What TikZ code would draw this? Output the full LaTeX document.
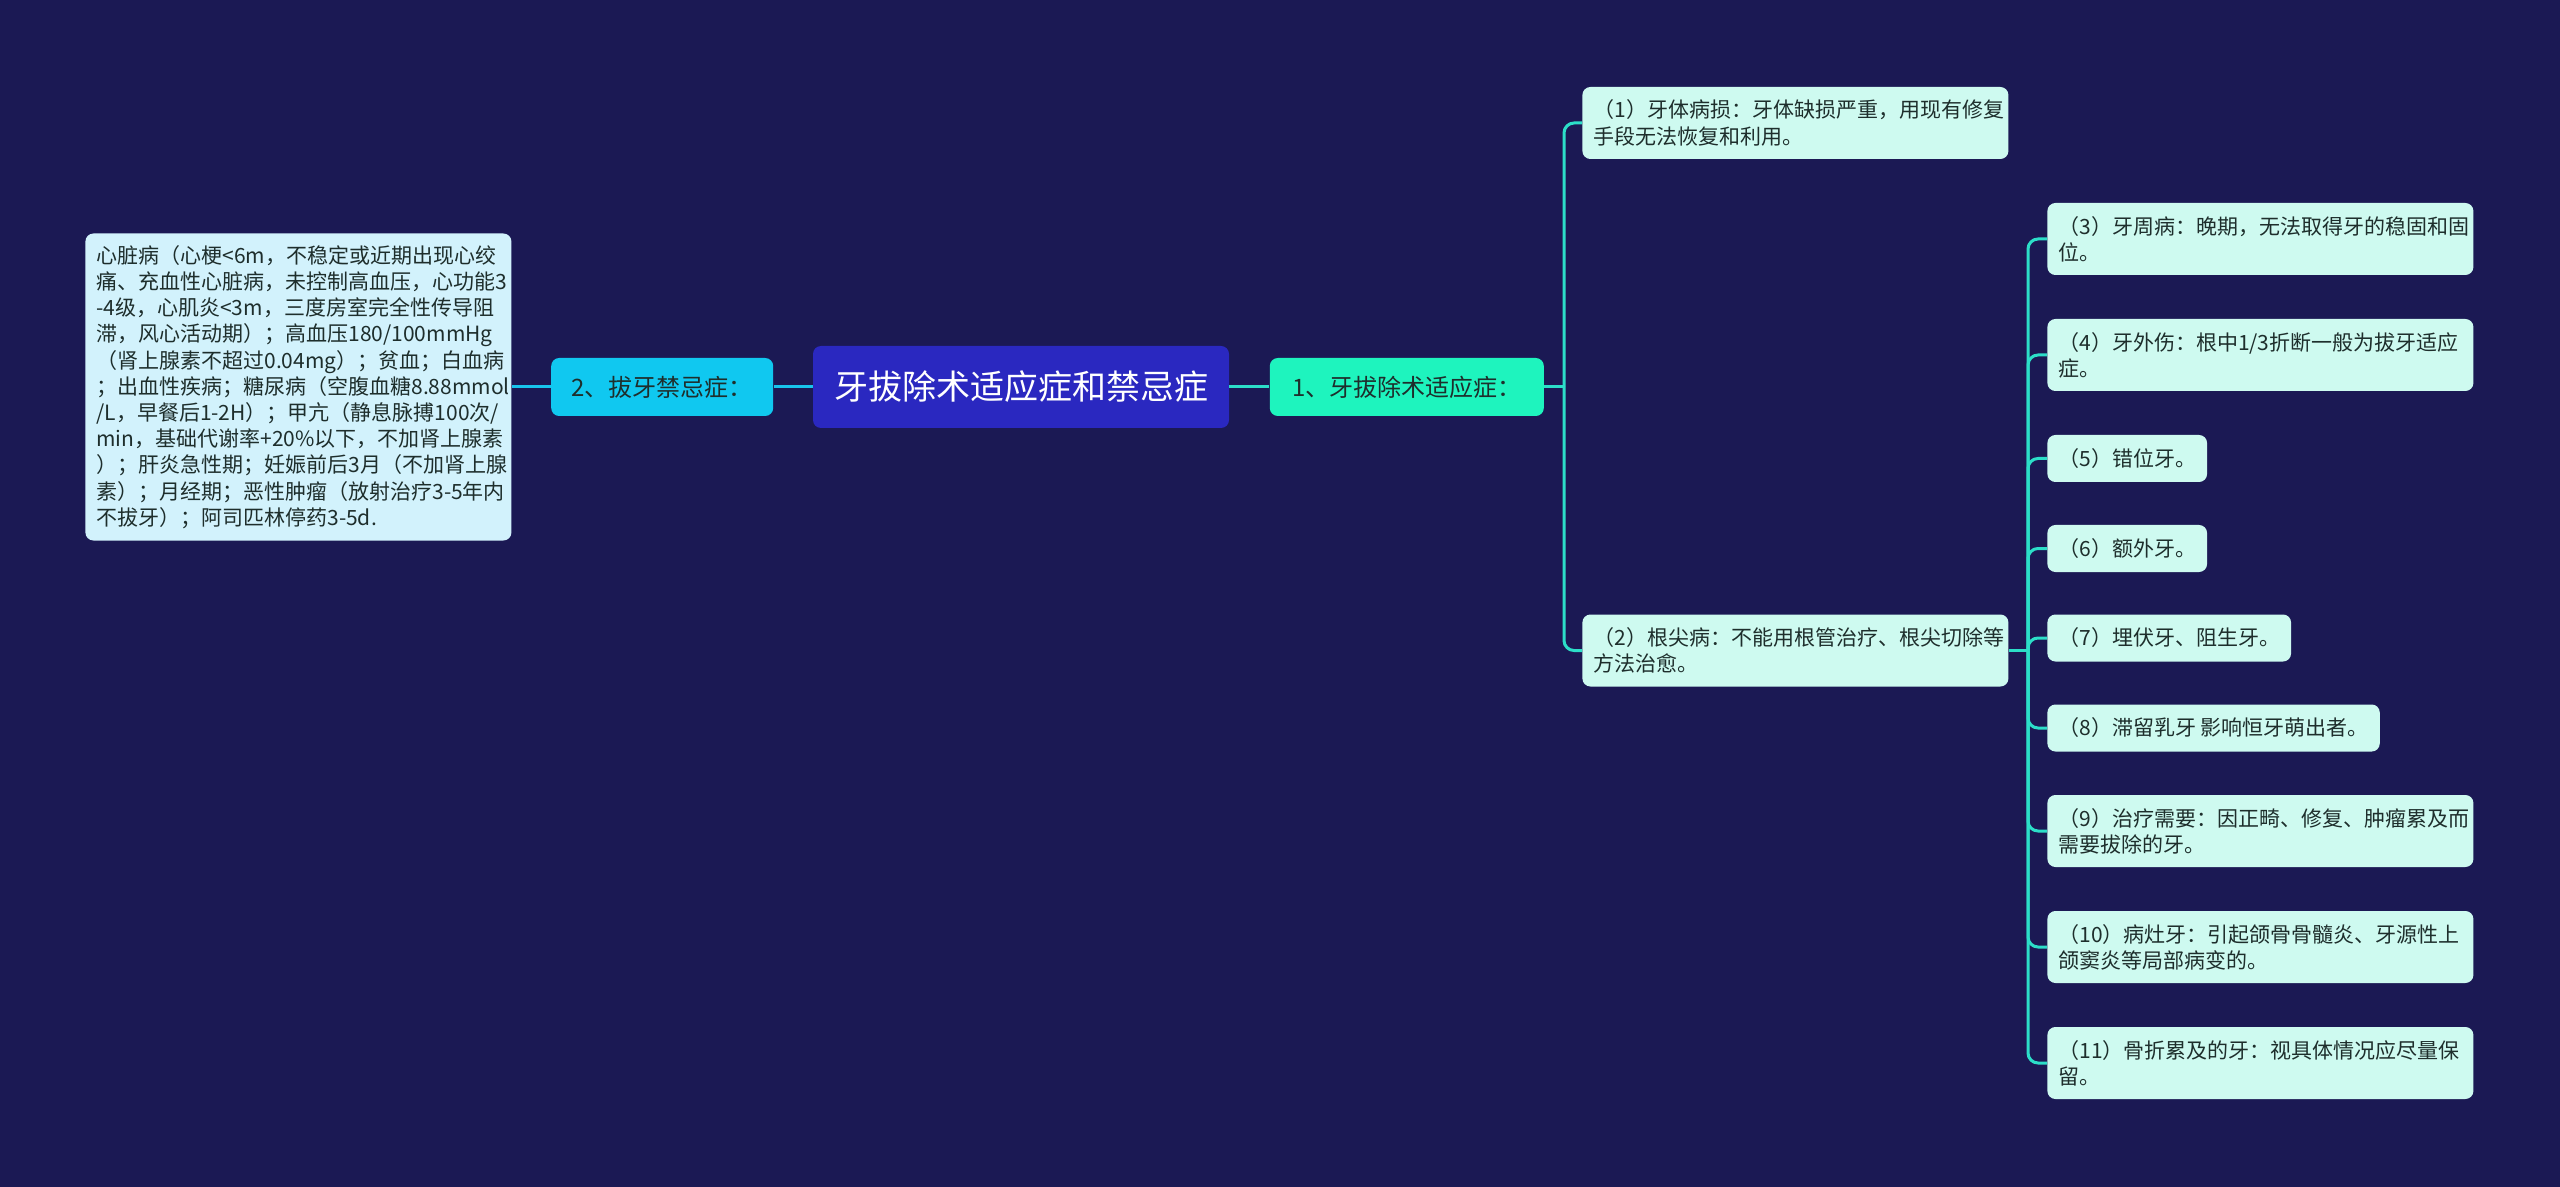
\documentclass[tikz,border=0pt]{standalone}
\usepackage{fontspec}
\setmainfont{Noto Sans CJK SC}
\usepackage{tikz}
\usetikzlibrary{positioning}

\definecolor{sfondo}{RGB}{27,25,84}
\definecolor{viola}{RGB}{42,40,192}
\definecolor{azzurro}{RGB}{16,200,240}
\definecolor{verde}{RGB}{30,244,190}
\definecolor{menta}{RGB}{206,250,240}
\definecolor{cielo}{RGB}{210,242,252}
\definecolor{testo}{RGB}{30,46,44}
\definecolor{filo1}{RGB}{44,222,200}
\definecolor{filo2}{RGB}{24,196,236}

\exhyphenpenalty=10000
\hyphenpenalty=10000

\begin{document}
\begin{tikzpicture}[x=0.5pt, y=-0.5pt,
    box/.style={rounded corners=4pt, inner xsep=5.5pt, inner ysep=3pt, text=testo},
    radice/.style={box, fill=viola, text=white, minimum width=208pt, minimum height=41pt,
      font=\fontsize{17pt}{20pt}\selectfont},
    ramo/.style={box, minimum height=29pt, font=\fontsize{12pt}{14pt}\selectfont},
    foglia/.style={box, fill=menta, align=left, anchor=west, font=\fontsize{10.5pt}{13.1pt}\selectfont},
    lunga/.style={foglia, text width=202pt, minimum height=36pt},
    corta/.style={foglia, minimum height=23.5pt},
    filo/.style={line width=1.5pt, rounded corners=5pt}]
  \path[use as bounding box, fill=sfondo] (0,0) rectangle (2560,1187);

  % Nodi principali
  \node[radice] (root) at (1021,387) {牙拔除术适应症和禁忌症};
  \node[ramo, fill=azzurro, minimum width=111pt, left=19.5pt of root] (contro) {2、拔牙禁忌症：};
  \node[ramo, fill=verde, minimum width=137pt, right=20pt of root] (indic) {1、牙拔除术适应症：};
  \node[foglia, fill=cielo, text width=202pt, minimum height=153.5pt, left=19.5pt of contro] (elenco) {心脏病（心梗<6m，不稳定或近期出现心绞\\痛、充血性心脏病，未控制高血压，心功能3\\-4级，心肌炎<3m，三度房室完全性传导阻\\滞，风心活动期）；高血压180/100mmHg\\（肾上腺素不超过0.04mg）；贫血；白血病\\；出血性疾病；糖尿病（空腹血糖8.88mmol\\/L，早餐后1-2H）；甲亢（静息脉搏100次/\\min，基础代谢率+20\%以下，不加肾上腺素\\）；肝炎急性期；妊娠前后3月（不加肾上腺\\素）；月经期；恶性肿瘤（放射治疗3-5年内\\不拔牙）；阿司匹林停药3-5d.};

  % Indicazioni
  \node[lunga] (i1) at (1582,123) {（1）牙体病损：牙体缺损严重，用现有修复\\手段无法恢复和利用。};
  \node[lunga] (i2) at (1582,650.5) {（2）根尖病：不能用根管治疗、根尖切除等\\方法治愈。};
  \node[lunga] (i3) at (2047,239) {（3）牙周病：晚期，无法取得牙的稳固和固\\位。};
  \node[lunga] (i4) at (2047,355) {（4）牙外伤：根中1/3折断一般为拔牙适应\\症。};
  \node[corta] (i5) at (2047,458.5) {（5）错位牙。};
  \node[corta] (i6) at (2047,548.5) {（6）额外牙。};
  \node[corta] (i7) at (2047,638) {（7）埋伏牙、阻生牙。};
  \node[corta] (i8) at (2047,728) {（8）滞留乳牙 影响恒牙萌出者。};
  \node[lunga] (i9) at (2047,831) {（9）治疗需要：因正畸、修复、肿瘤累及而\\需要拔除的牙。};
  \node[lunga] (i10) at (2047,947) {（10）病灶牙：引起颌骨骨髓炎、牙源性上\\颌窦炎等局部病变的。};
  \node[lunga] (i11) at (2047,1063) {（11）骨折累及的牙：视具体情况应尽量保\\留。};

  % Collegamenti
  \draw[filo, filo2] (root) -- (contro);
  \draw[filo, filo2] (contro) -- (elenco);
  \draw[filo, filo1] (root) -- (indic);
  \coordinate (j1) at (1564,387);
  \coordinate (j2) at (2028,650.5);
  \draw[filo, filo1] (indic.east) -- (j1);
  \foreach \n in {i1,i2}
    \draw[filo, filo1] (j1) |- (\n.west);
  \draw[filo, filo1] (i2.east) -- (j2);
  \foreach \n in {i3,i4,i5,i6,i7,i8,i9,i10,i11}
    \draw[filo, filo1] (j2) |- (\n.west);
\end{tikzpicture}
\end{document}
